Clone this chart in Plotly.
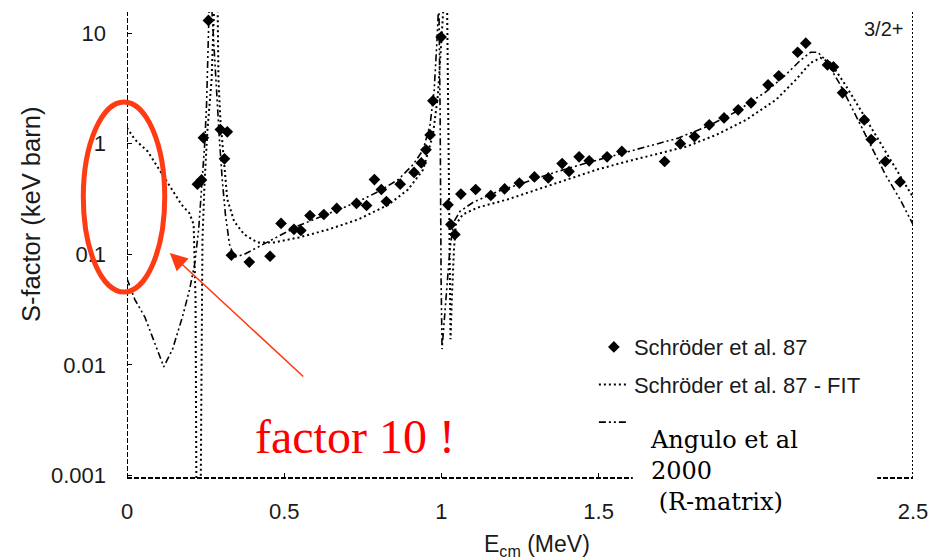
import plotly.graph_objects as go

# Measured S-factor points (Schröder et al. 87), E_cm in MeV, S in keV barn
data_e = [0.224, 0.237, 0.243, 0.259, 0.297, 0.319, 0.310, 0.332, 0.389, 0.455,
          0.490, 0.531, 0.553, 0.582, 0.626, 0.667, 0.730, 0.762, 0.787, 0.809,
          0.825, 0.869, 0.913, 0.936, 0.951, 0.964, 0.973, 0.999, 1.021, 1.030,
          1.043, 1.062, 1.109, 1.157, 1.201, 1.248, 1.296, 1.340, 1.384, 1.406,
          1.438, 1.470, 1.527, 1.574, 1.710, 1.760, 1.805, 1.852, 1.899, 1.944,
          1.985, 2.039, 2.073, 2.133, 2.159, 2.228, 2.247, 2.276, 2.345, 2.367,
          2.412, 2.459]
data_s = [0.43, 0.47, 1.13, 13.0, 1.34, 1.28, 0.73, 0.098, 0.085, 0.096,
          0.19, 0.168, 0.164, 0.224, 0.229, 0.26, 0.288, 0.276, 0.474, 0.385,
          0.30, 0.43, 0.55, 0.67, 0.88, 1.2, 2.44, 9.2, 0.28, 0.186,
          0.151, 0.35, 0.385, 0.34, 0.39, 0.44, 0.50, 0.49, 0.66, 0.56,
          0.76, 0.70, 0.76, 0.85, 0.69, 1.0, 1.16, 1.48, 1.71, 2.02,
          2.34, 3.40, 4.10, 6.7, 8.1, 5.15, 4.94, 2.88, 1.64, 1.09,
          0.69, 0.45]

# Schröder et al. 87 fit curve
fit_e = [0.000, 0.025, 0.066, 0.098, 0.136, 0.174, 0.199, 0.212, 0.218, 0.221,
         0.234, 0.237, 0.240, 0.247, 0.256, 0.269, 0.275, 0.278, 0.288, 0.291,
         0.297, 0.307, 0.319, 0.341, 0.373, 0.414, 0.468, 0.547, 0.642, 0.736,
         0.831, 0.894, 0.942, 0.973, 0.989, 1.002, 1.008, 1.018, 1.021, 1.024,
         1.027, 1.029, 1.033, 1.040, 1.046, 1.068, 1.116, 1.210, 1.305, 1.400,
         1.495, 1.590, 1.685, 1.779, 1.874, 1.969, 2.064, 2.127, 2.174, 2.206,
         2.238, 2.285, 2.333, 2.380, 2.427, 2.475, 2.500]
fit_s = [1.39, 1.09, 0.85, 0.61, 0.41, 0.28, 0.234, 0.186, 0.039, 0.0005,
         0.0005, 0.039, 0.136, 0.47, 1.34, 3.77, 10.6, 20.0, 20.0, 3.77,
         1.64, 0.72, 0.313, 0.198, 0.151, 0.128, 0.128, 0.142, 0.168, 0.207,
         0.280, 0.385, 0.583, 1.20, 2.76, 10.6, 20.0, 20.0, 2.49, 0.494,
         0.090, 0.0171, 0.039, 0.111, 0.186, 0.229, 0.265, 0.313, 0.385, 0.474,
         0.583, 0.69, 0.80, 0.94, 1.20, 1.64, 2.49, 3.77, 5.37, 5.96,
         5.37, 3.40, 2.02, 1.20, 0.72, 0.43, 0.33]

# Angulo et al 2000 R-matrix curve
rmat_e = [0.000, 0.025, 0.057, 0.088, 0.117, 0.145, 0.177, 0.199, 0.215, 0.228,
          0.237, 0.247, 0.253, 0.259, 0.262, 0.268, 0.275, 0.284, 0.294, 0.303,
          0.313, 0.326, 0.341, 0.373, 0.420, 0.484, 0.547, 0.610, 0.673, 0.736,
          0.800, 0.863, 0.910, 0.942, 0.964, 0.977, 0.986, 0.989, 0.992, 0.996,
          0.9965, 0.999, 1.002, 1.015, 1.027, 1.040, 1.059, 1.100, 1.179, 1.274,
          1.369, 1.463, 1.558, 1.653, 1.748, 1.843, 1.937, 2.032, 2.095, 2.143,
          2.174, 2.197, 2.222, 2.269, 2.317, 2.364, 2.412, 2.459, 2.500]
rmat_s = [0.060, 0.039, 0.027, 0.0155, 0.0096, 0.0139, 0.0276, 0.048, 0.081, 0.168,
          0.37, 0.98, 2.24, 8.6, 20.0, 20.0, 8.6, 2.76, 1.09, 0.47,
          0.229, 0.123, 0.094, 0.100, 0.118, 0.148, 0.182, 0.215, 0.254, 0.300,
          0.370, 0.474, 0.647, 0.880, 1.48, 3.06, 8.6, 20.0, 20.0, 1.82,
          0.30, 0.060, 0.0139, 0.039, 0.111, 0.198, 0.244, 0.294, 0.370, 0.455,
          0.56, 0.67, 0.80, 0.94, 1.11, 1.42, 1.94, 2.94, 4.19, 5.7,
          6.7, 6.7, 5.7, 3.40, 1.82, 0.98, 0.526, 0.313, 0.186]

# the "2" tick sits under the white label panel, so it carries no text
x_ticks = [0, 0.5, 1, 1.5, 2, 2.5]
x_tick_text = ["0", "0.5", "1", "1.5", "", "2.5"]
y_ticks = [0.001, 0.01, 0.1, 1, 10]
y_tick_text = ["0.001", "0.01", "0.1", "1", "10"]

SANS = "Liberation Sans, Arial, sans-serif"
SERIF = "Liberation Serif, Times New Roman, serif"
INK = "#1a1a1a"
RED = "#ff3b14"

fig = go.Figure()
fig.add_trace(go.Scatter(
    x=data_e, y=data_s, mode="markers", name="Schröder et al. 87",
    legendgroup="a",
    marker=dict(symbol="diamond", size=9, color="black"),
))
fig.add_trace(go.Scatter(
    x=fit_e, y=fit_s, mode="lines", name="Schröder et al. 87 - FIT",
    legendgroup="b",
    line=dict(color="black", width=2, dash="2px,3px"),
))
fig.add_trace(go.Scatter(
    x=rmat_e, y=rmat_s, mode="lines", name=" ",
    legendgroup="c",
    line=dict(color="black", width=1.6, dash="7px,3px,2px,3px,2px,3px"),
))

fig.update_layout(
    width=940, height=560,
    margin=dict(l=127, r=22, t=12, b=82),
    paper_bgcolor="white", plot_bgcolor="white",
    font=dict(family=SANS, size=22, color=INK),
    showlegend=True,
    legend=dict(
        x=0.594, y=0.326, xanchor="left", yanchor="top",
        bgcolor="rgba(0,0,0,0)", borderwidth=0,
        traceorder="grouped", tracegroupgap=6,
        font=dict(family=SANS, size=22, color=INK),
    ),
    xaxis=dict(
        range=[0, 2.5], tickvals=x_ticks, ticktext=x_tick_text,
        showgrid=False, zeroline=False, showline=False,
        ticks="inside", ticklen=5, tickcolor="black",
        ticklabelstandoff=18,
        tickfont=dict(family=SANS, size=22, color=INK),
    ),
    yaxis=dict(
        type="log", range=[-3.022, 1.19],
        tickvals=y_ticks, ticktext=y_tick_text,
        showgrid=False, zeroline=False, showline=False,
        ticks="inside", ticklen=5, tickcolor="black",
        ticklabelstandoff=20,
        tickfont=dict(family=SANS, size=22, color=INK),
    ),
)

# frame: dashed left and bottom axes, dotted right edge
fig.add_shape(type="line", xref="x", yref="paper", x0=0, x1=0, y0=0, y1=1,
              line=dict(color="black", width=2, dash="5px,2px"), layer="above")
fig.add_shape(type="line", xref="paper", yref="paper", x0=0, x1=1, y0=0, y1=0,
              line=dict(color="black", width=2, dash="5px,2px"), layer="above")
fig.add_shape(type="line", xref="x", yref="paper", x0=2.5, x1=2.5, y0=0, y1=1,
              line=dict(color="black", width=2, dash="2px,2px"), layer="above")

# white panel carrying the R-matrix label
fig.add_shape(type="rect", xref="paper", yref="paper",
              x0=0.6435, x1=0.9545, y0=-0.1116, y1=0.1288,
              fillcolor="white", line=dict(width=0), layer="above")

# red ellipse around the low-energy extrapolation
fig.add_shape(type="circle", xref="paper", yref="paper",
              x0=-0.0556, x1=0.0480, y0=0.399, y1=0.807,
              line=dict(color=RED, width=5), layer="above")

fig.add_annotation(text="S-factor (keV barn)", xref="paper", yref="paper",
                   x=-0.123, y=0.565, xanchor="center", yanchor="middle",
                   textangle=-90, showarrow=False,
                   font=dict(family=SANS, size=25.5, color=INK))
fig.add_annotation(text="E<sub>cm</sub> (MeV)", xref="paper", yref="paper",
                   x=0.522, y=-0.144, xanchor="center", yanchor="middle",
                   showarrow=False,
                   font=dict(family=SANS, size=23, color=INK))
fig.add_annotation(text="3/2+", xref="paper", yref="paper",
                   x=0.962, y=0.9635, xanchor="center", yanchor="middle",
                   showarrow=False,
                   font=dict(family=SANS, size=20, color=INK))
fig.add_annotation(text="factor 10 !", xref="paper", yref="paper",
                   x=0.290, y=0.088, xanchor="center", yanchor="middle",
                   showarrow=False,
                   font=dict(family=SERIF, size=48, color="#ff0000"))
fig.add_annotation(text="", xref="paper", yref="paper",
                   x=0.0544, y=0.483, ax=135, ay=125,
                   showarrow=True, arrowhead=2, arrowsize=2.2, arrowwidth=1.6,
                   arrowcolor=RED)
fig.add_annotation(text="Angulo et al<br>2000<br>\u00a0(R-matrix)",
                   xref="paper", yref="paper", x=0.663, y=0.115,
                   xanchor="left", yanchor="top", align="left", showarrow=False,
                   font=dict(family="DejaVu Serif, serif", size=24, color="black"))

fig.write_html("out.html")
